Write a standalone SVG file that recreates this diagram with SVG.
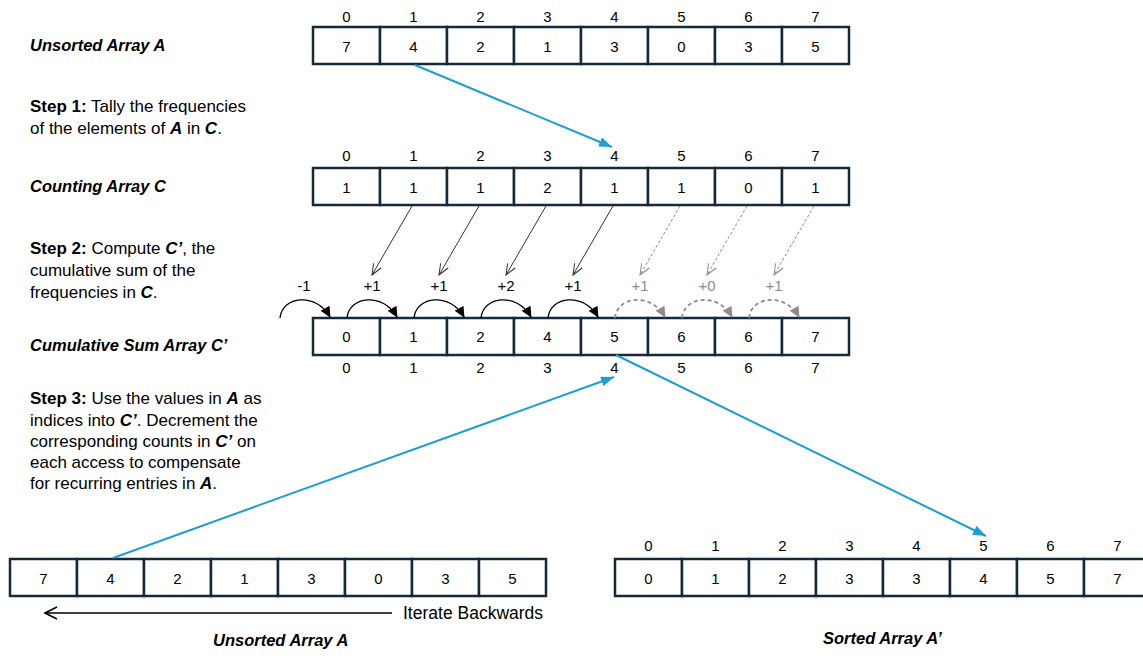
<svg xmlns="http://www.w3.org/2000/svg" width="1143" height="656" viewBox="0 0 1143 656">
<style>
.cell{fill:#fff;stroke:#15293a;stroke-width:2.5}
.num{font-family:"Liberation Sans",Arial,sans-serif;font-size:15px;fill:#000;text-anchor:middle;dominant-baseline:central}
.lbl{font-family:"Liberation Sans",Arial,sans-serif;font-size:16.5px;font-weight:bold;font-style:italic;fill:#000;dominant-baseline:central}
.txt{font-family:"Liberation Sans",Arial,sans-serif;font-size:17px;fill:#000}
.b{font-weight:bold}
.bi{font-weight:bold;font-style:italic}
.blue{stroke:#1a9ed4;stroke-width:2;fill:none}
.thin{stroke:#333;stroke-width:1;fill:none}
.dash{stroke:#8c8c8c;stroke-width:1;fill:none;stroke-dasharray:3 2}
.arc{stroke:#000;stroke-width:1.3;fill:none}
.darc{stroke:#8c8c8c;stroke-width:1.8;fill:none;stroke-dasharray:4 3}
.grey{fill:#8c8c8c}
</style>
<defs>
<marker id="mb" markerUnits="userSpaceOnUse" markerWidth="13" markerHeight="10" refX="13" refY="5" orient="auto"><path d="M0,0 L13,5 L0,10 z" fill="#1a9ed4"/></marker>
<marker id="mk" markerUnits="userSpaceOnUse" markerWidth="11" markerHeight="10" refX="10" refY="5" orient="auto"><path d="M0,0 L11,5 L0,10 z" fill="#000"/></marker>
<marker id="mg" markerUnits="userSpaceOnUse" markerWidth="11" markerHeight="10" refX="10" refY="5" orient="auto"><path d="M0,0 L11,5 L0,10 z" fill="#8c8c8c"/></marker>
<marker id="vk" markerUnits="userSpaceOnUse" markerWidth="12" markerHeight="10" refX="11" refY="5" orient="auto"><path d="M0,0.5 L11,5 L0,9.5" fill="none" stroke="#333" stroke-width="1"/></marker>
<marker id="vg" markerUnits="userSpaceOnUse" markerWidth="12" markerHeight="10" refX="11" refY="5" orient="auto"><path d="M0,0.5 L11,5 L0,9.5" fill="none" stroke="#8c8c8c" stroke-width="1"/></marker>
<marker id="vb" markerUnits="userSpaceOnUse" markerWidth="14" markerHeight="14" refX="13" refY="7" orient="auto"><path d="M1,1 L13,7 L1,13" fill="none" stroke="#000" stroke-width="1.6"/></marker>
</defs>
<rect width="1143" height="656" fill="#fff"/>

<!-- Labels -->
<g id="label-unsorted-top"><text class="lbl" x="30" y="45">Unsorted Array A</text></g>
<g id="step1"><text class="txt" x="30" y="112"><tspan class="b">Step 1:</tspan> Tally the frequencies</text><text class="txt" x="30" y="134">of the elements of <tspan class="bi">A</tspan> in <tspan class="bi">C</tspan>.</text></g>
<g id="label-counting"><text class="lbl" x="30" y="186">Counting Array C</text></g>
<g id="step2"><text class="txt" x="30" y="254"><tspan class="b">Step 2:</tspan> Compute <tspan class="bi">C’</tspan>, the</text><text class="txt" x="30" y="276">cumulative sum of the</text><text class="txt" x="30" y="298">frequencies in <tspan class="bi">C</tspan>.</text></g>
<g id="label-cumulative"><text class="lbl" x="30" y="345">Cumulative Sum Array C’</text></g>
<g id="step3"><text class="txt" x="30" y="404"><tspan class="b">Step 3:</tspan> Use the values in <tspan class="bi">A</tspan> as</text><text class="txt" x="30" y="426">indices into <tspan class="bi">C’</tspan>. Decrement the</text><text class="txt" x="30" y="447">corresponding counts in <tspan class="bi">C’</tspan> on</text><text class="txt" x="30" y="468">each access to compensate</text><text class="txt" x="30" y="489">for recurring entries in <tspan class="bi">A</tspan>.</text></g>
<g id="label-unsorted-bottom"><text class="lbl" x="213" y="640">Unsorted Array A</text></g>
<g id="label-sorted"><text class="lbl" x="823" y="638">Sorted Array A’</text></g>

<!-- Array A (top) -->
<g id="array-a">
<rect class="cell" x="313" y="27" width="67" height="37"/><rect class="cell" x="380" y="27" width="67" height="37"/><rect class="cell" x="447" y="27" width="67" height="37"/><rect class="cell" x="514" y="27" width="67" height="37"/><rect class="cell" x="581" y="27" width="67" height="37"/><rect class="cell" x="648" y="27" width="67" height="37"/><rect class="cell" x="715" y="27" width="67" height="37"/><rect class="cell" x="782" y="27" width="67" height="37"/>
<text class="num" x="346.5" y="46">7</text><text class="num" x="413.5" y="46">4</text><text class="num" x="480.5" y="46">2</text><text class="num" x="547.5" y="46">1</text><text class="num" x="614.5" y="46">3</text><text class="num" x="681.5" y="46">0</text><text class="num" x="748.5" y="46">3</text><text class="num" x="815.5" y="46">5</text>
<text class="num" x="346.5" y="16">0</text><text class="num" x="413.5" y="16">1</text><text class="num" x="480.5" y="16">2</text><text class="num" x="547.5" y="16">3</text><text class="num" x="614.5" y="16">4</text><text class="num" x="681.5" y="16">5</text><text class="num" x="748.5" y="16">6</text><text class="num" x="815.5" y="16">7</text>
</g>

<!-- Array C -->
<g id="array-c">
<rect class="cell" x="313" y="168" width="67" height="37"/><rect class="cell" x="380" y="168" width="67" height="37"/><rect class="cell" x="447" y="168" width="67" height="37"/><rect class="cell" x="514" y="168" width="67" height="37"/><rect class="cell" x="581" y="168" width="67" height="37"/><rect class="cell" x="648" y="168" width="67" height="37"/><rect class="cell" x="715" y="168" width="67" height="37"/><rect class="cell" x="782" y="168" width="67" height="37"/>
<text class="num" x="346.5" y="187">1</text><text class="num" x="413.5" y="187">1</text><text class="num" x="480.5" y="187">1</text><text class="num" x="547.5" y="187">2</text><text class="num" x="614.5" y="187">1</text><text class="num" x="681.5" y="187">1</text><text class="num" x="748.5" y="187">0</text><text class="num" x="815.5" y="187">1</text>
<text class="num" x="346.5" y="155">0</text><text class="num" x="413.5" y="155">1</text><text class="num" x="480.5" y="155">2</text><text class="num" x="547.5" y="155">3</text><text class="num" x="614.5" y="155">4</text><text class="num" x="681.5" y="155">5</text><text class="num" x="748.5" y="155">6</text><text class="num" x="815.5" y="155">7</text>
</g>

<!-- Array C' -->
<g id="array-c-prime">
<rect class="cell" x="313" y="318" width="67" height="37"/><rect class="cell" x="380" y="318" width="67" height="37"/><rect class="cell" x="447" y="318" width="67" height="37"/><rect class="cell" x="514" y="318" width="67" height="37"/><rect class="cell" x="581" y="318" width="67" height="37"/><rect class="cell" x="648" y="318" width="67" height="37"/><rect class="cell" x="715" y="318" width="67" height="37"/><rect class="cell" x="782" y="318" width="67" height="37"/>
<text class="num" x="346.5" y="336">0</text><text class="num" x="413.5" y="336">1</text><text class="num" x="480.5" y="336">2</text><text class="num" x="547.5" y="336">4</text><text class="num" x="614.5" y="336">5</text><text class="num" x="681.5" y="336">6</text><text class="num" x="748.5" y="336">6</text><text class="num" x="815.5" y="336">7</text>
<text class="num" x="346.5" y="367">0</text><text class="num" x="413.5" y="367">1</text><text class="num" x="480.5" y="367">2</text><text class="num" x="547.5" y="367">3</text><text class="num" x="614.5" y="367">4</text><text class="num" x="681.5" y="367">5</text><text class="num" x="748.5" y="367">6</text><text class="num" x="815.5" y="367">7</text>
</g>

<!-- Increment labels -->
<g id="increments">
<text class="num" x="304" y="285">-1</text><text class="num" x="372" y="285">+1</text><text class="num" x="439" y="285">+1</text><text class="num" x="506" y="285">+2</text><text class="num" x="573" y="285">+1</text>
<text class="num grey" x="640" y="285">+1</text><text class="num grey" x="707" y="285">+0</text><text class="num grey" x="774" y="285">+1</text>
</g>

<!-- Bottom unsorted array -->
<g id="array-a-bottom">
<rect class="cell" x="10" y="559" width="67" height="37"/><rect class="cell" x="77" y="559" width="67" height="37"/><rect class="cell" x="144" y="559" width="67" height="37"/><rect class="cell" x="211" y="559" width="67" height="37"/><rect class="cell" x="278" y="559" width="67" height="37"/><rect class="cell" x="345" y="559" width="67" height="37"/><rect class="cell" x="412" y="559" width="67" height="37"/><rect class="cell" x="479" y="559" width="67" height="37"/>
<text class="num" x="43.5" y="578">7</text><text class="num" x="110.5" y="578">4</text><text class="num" x="177.5" y="578">2</text><text class="num" x="244.5" y="578">1</text><text class="num" x="311.5" y="578">3</text><text class="num" x="378.5" y="578">0</text><text class="num" x="445.5" y="578">3</text><text class="num" x="512.5" y="578">5</text>
</g>
<g id="iterate-label"><text class="txt" x="403" y="619" style="font-size:17.5px">Iterate Backwards</text></g>

<!-- Sorted array -->
<g id="array-sorted">
<rect class="cell" x="615" y="559" width="67" height="37"/><rect class="cell" x="682" y="559" width="67" height="37"/><rect class="cell" x="749" y="559" width="67" height="37"/><rect class="cell" x="816" y="559" width="67" height="37"/><rect class="cell" x="883" y="559" width="67" height="37"/><rect class="cell" x="950" y="559" width="67" height="37"/><rect class="cell" x="1017" y="559" width="67" height="37"/><rect class="cell" x="1084" y="559" width="67" height="37"/>
<text class="num" x="648.5" y="578">0</text><text class="num" x="715.5" y="578">1</text><text class="num" x="782.5" y="578">2</text><text class="num" x="849.5" y="578">3</text><text class="num" x="916.5" y="578">3</text><text class="num" x="983.5" y="578">4</text><text class="num" x="1050.5" y="578">5</text><text class="num" x="1117.5" y="578">7</text>
<text class="num" x="648.5" y="545">0</text><text class="num" x="715.5" y="545">1</text><text class="num" x="782.5" y="545">2</text><text class="num" x="849.5" y="545">3</text><text class="num" x="916.5" y="545">4</text><text class="num" x="983.5" y="545">5</text><text class="num" x="1050.5" y="545">6</text><text class="num" x="1117.5" y="545">7</text>
</g>

<!-- Connectors -->
<g id="connectors">
<line class="blue" x1="415" y1="65" x2="612" y2="147" marker-end="url(#mb)"/>
<line class="blue" x1="113" y1="558" x2="614" y2="377" marker-end="url(#mb)"/>
<line class="blue" x1="616" y1="355" x2="986" y2="536" marker-end="url(#mb)"/>

<line class="thin" x1="412" y1="206" x2="372" y2="275" marker-end="url(#vk)"/>
<line class="thin" x1="479" y1="206" x2="439" y2="275" marker-end="url(#vk)"/>
<line class="thin" x1="546" y1="206" x2="506" y2="275" marker-end="url(#vk)"/>
<line class="thin" x1="613" y1="206" x2="573" y2="275" marker-end="url(#vk)"/>
<line class="dash" x1="680" y1="206" x2="640" y2="275" marker-end="url(#vg)"/>
<line class="dash" x1="747" y1="206" x2="707" y2="275" marker-end="url(#vg)"/>
<line class="dash" x1="814" y1="206" x2="774" y2="275" marker-end="url(#vg)"/>

<path class="arc" d="M280,318 C282,296 316,292 330,317" marker-end="url(#mk)"/>
<path class="arc" d="M347,318 C349,296 383,292 397,317" marker-end="url(#mk)"/>
<path class="arc" d="M414,318 C416,296 450,292 464,317" marker-end="url(#mk)"/>
<path class="arc" d="M481,318 C483,296 517,292 531,317" marker-end="url(#mk)"/>
<path class="arc" d="M548,318 C550,296 584,292 598,317" marker-end="url(#mk)"/>
<path class="darc" d="M615,318 C617,296 651,292 665,317" marker-end="url(#mg)"/>
<path class="darc" d="M682,318 C684,296 718,292 732,317" marker-end="url(#mg)"/>
<path class="darc" d="M749,318 C751,296 785,292 799,317" marker-end="url(#mg)"/>

<line x1="392" y1="613" x2="45" y2="613" stroke="#000" stroke-width="1.6" marker-end="url(#vb)"/>
</g>
</svg>
